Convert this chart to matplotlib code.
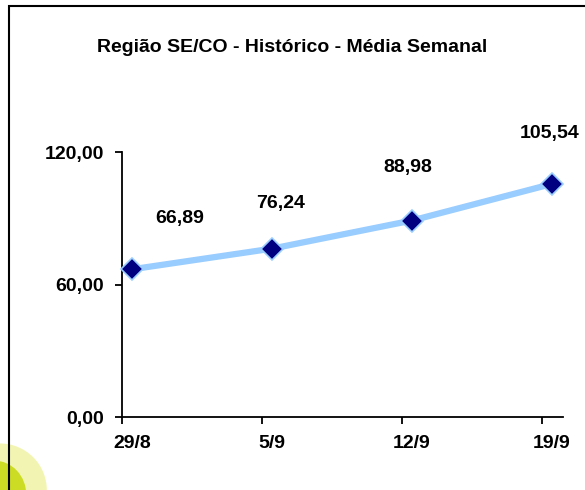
import matplotlib
matplotlib.use('Agg')
import matplotlib.pyplot as plt
from matplotlib.patches import Ellipse, Rectangle

# dados da série (dias contados a partir de 29/8)
dias = [0, 7, 14, 21]
rotulos = ['29/8', '5/9', '12/9', '19/9']
valores = [66.89, 76.24, 88.98, 105.54]
valores_txt = ['66,89', '76,24', '88,98', '105,54']
y_ticks = [0, 60, 120]
y_ticks_txt = ['0,00', '60,00', '120,00']

# deslocamento dos rótulos de dados (pixels)
desloc = [(48, 51), (9, 45), (-4, 53), (-2, 50)]

plt.rcParams['font.family'] = ['Liberation Sans', 'DejaVu Sans']

fig = plt.figure(figsize=(5.85, 4.9), dpi=100)
fig.patch.set_facecolor('white')

# mancha verde do fundo no canto inferior esquerdo
fig.patches.append(Ellipse((0.0, 0.0), 0.16, 0.19, transform=fig.transFigure,
                           facecolor='#d4e000', edgecolor='none', alpha=0.3, zorder=0))
fig.patches.append(Ellipse((-0.01, -0.01), 0.11, 0.14, transform=fig.transFigure,
                           facecolor='#c3d600', edgecolor='none', alpha=0.8, zorder=0))

# moldura do gráfico
fig.patches.append(Rectangle((9 / 585, -0.1), 1.1, 1.1 - 6 / 490,
                             transform=fig.transFigure, facecolor='none',
                             edgecolor='black', linewidth=1.5, zorder=1))

ax = fig.add_axes([122 / 585, 73 / 490, 441 / 585, 265 / 490])
ax.set_facecolor('none')

ax.plot(dias, valores, color='#99ccff', linewidth=4.5, zorder=2)
ax.plot(dias, valores, linestyle='none', marker='D', markersize=11,
        markerfacecolor='#000080', markeredgecolor='#99ccff', markeredgewidth=1.2,
        zorder=3, clip_on=False)

for x, y, t, (dx, dy) in zip(dias, valores, valores_txt, desloc):
    ax.annotate(t, (x, y), xytext=(dx, dy), textcoords='offset pixels',
                ha='center', va='center', fontsize=14, fontweight='bold')

ax.set_xlim(-0.5, 21.55)
ax.set_ylim(0, 120)

ax.spines['top'].set_visible(False)
ax.spines['right'].set_visible(False)
ax.spines['left'].set_linewidth(1.3)
ax.spines['bottom'].set_linewidth(1.3)

ax.set_yticks(y_ticks)
ax.set_yticklabels(y_ticks_txt, fontsize=14, fontweight='bold')
ax.tick_params(axis='y', length=5, width=1.3, pad=8)

# marcas do eixo x nas divisas, rótulos sob os pontos
ax.set_xticks([d - 0.5 for d in dias])
ax.set_xticklabels([])
ax.tick_params(axis='x', which='major', length=5, width=1.3)
ax.set_xticks(dias, minor=True)
ax.set_xticklabels(rotulos, minor=True, fontsize=14, fontweight='bold')
ax.tick_params(axis='x', which='minor', length=0, pad=13)

fig.text(292 / 585, 1 - 47 / 490, 'Região SE/CO - Histórico - Média Semanal',
         ha='center', va='center', fontsize=14, fontweight='bold')

fig.savefig('out.png', dpi=100)
